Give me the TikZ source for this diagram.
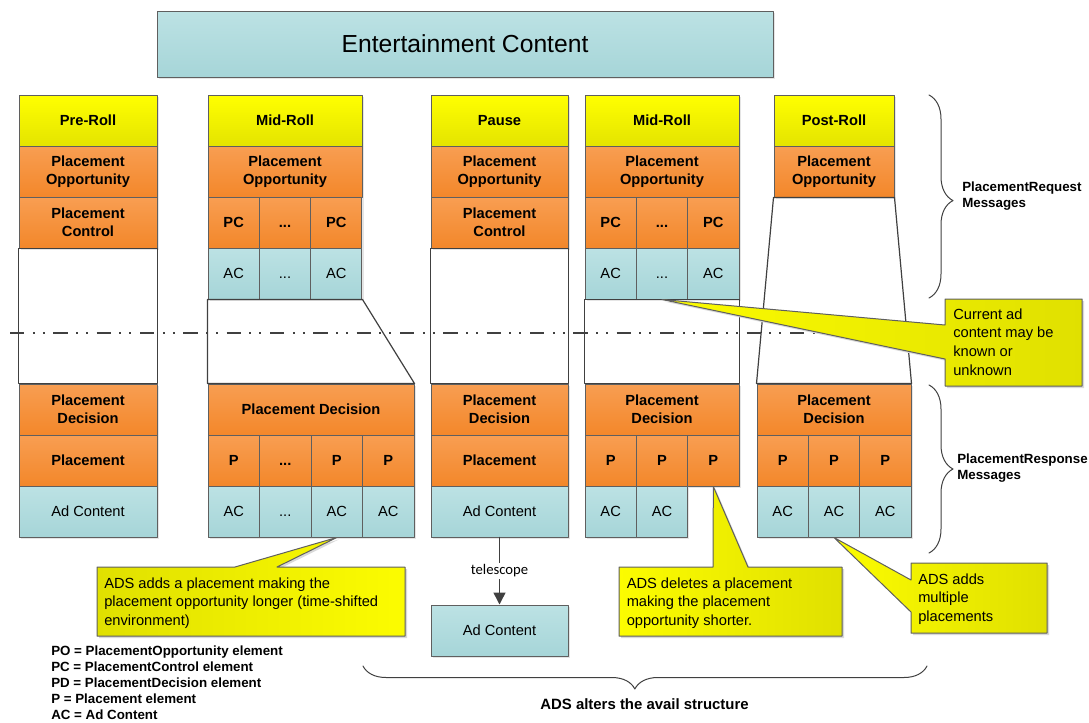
\documentclass[tikz,border=0pt]{standalone}
\usepackage{fontspec}
\setmainfont{Liberation Sans}
\newfontfamily\telfont{Carlito}
\usepackage{tikz}
\usetikzlibrary{arrows.meta}
\usetikzlibrary{decorations.pathreplacing}
\usetikzlibrary{shadows}
\definecolor{linegray}{RGB}{95,95,95}
\definecolor{cutgray}{RGB}{64,64,64}
\definecolor{hdtop}{RGB}{255,255,0}
\definecolor{hdbot}{RGB}{228,228,0}
\definecolor{ortop}{RGB}{248,158,82}
\definecolor{orbot}{RGB}{243,135,42}
\definecolor{actop}{RGB}{188,226,228}
\definecolor{acbot}{RGB}{166,213,216}
\definecolor{notelt}{RGB}{252,252,0}
\definecolor{notedk}{RGB}{224,224,0}
\newcommand{\cellfont}{\fontsize{11}{13.5}\selectfont\bfseries}
\newcommand{\notefont}{\fontsize{11}{13.9}\selectfont}
\newcommand{\keyfont}{\fontsize{10}{12}\selectfont\bfseries}
\newcommand{\skipdots}{\vphantom{P}.\kern0pt.\kern0pt.}

\begin{document}
\begin{tikzpicture}[line cap=round, line join=round, x=0.75pt, y=-0.75pt,
  cell/.style={draw=linegray, line width=0.75pt, inner sep=0pt, minimum height=38.25pt,
    align=center, font=\cellfont,
    drop shadow={shadow xshift=1.2pt, shadow yshift=-1.2pt, fill=black!10, opacity=1}},
  wpx/.style={minimum width=#1*0.75pt},
  hdcell/.style={cell, top color=hdtop, bottom color=hdbot},
  pocell/.style={cell, top color=ortop, bottom color=orbot},
  accell/.style={cell, top color=actop, bottom color=acbot, font=\fontsize{11}{13.5}\selectfont},
  gap/.style={draw=cutgray, line width=0.9pt},
  cut/.style={draw=cutgray, line width=1.1pt, line cap=butt,
    dash pattern=on 10.7pt off 6.4pt on 1.5pt off 6pt on 1.5pt off 6.4pt},
  brc/.style={draw=cutgray, line width=0.75pt, decorate, decoration={brace, amplitude=#1}},
  note/.style={draw=linegray, line width=0.75pt,
    preaction={fill=black!15, transform canvas={shift={(1.5pt,-1.5pt)}}}},
  notetxt/.style={anchor=north west, align=left, inner sep=0pt, font=\notefont},
  key/.style={align=left, inner sep=0pt, font=\keyfont}]
\useasboundingbox (0,0) rectangle (1089,722);

% top
\node[accell, wpx=616, minimum height=49.5pt, font=\fontsize{18.5}{22}\selectfont] (ent) at (465,44) {Entertainment Content};

% pre-roll
\node[hdcell, wpx=138] (preHd) at (88,120.5) {Pre-Roll};
\node[pocell, wpx=138] (prePO) at (88,171.5) {Placement\\Opportunity};
\node[pocell, wpx=138] (prePC) at (88,222.5) {Placement\\Control};
\node[pocell, wpx=138] (prePD) at (88,409.5) {Placement\\Decision};
\node[pocell, wpx=138] (preP) at (88,460.5) {Placement};
\node[accell, wpx=138] (preAC) at (88,511.5) {Ad Content};
\draw[gap] (prePC.south west) rectangle (prePD.north east);

% mid-roll, placement added
\node[hdcell, wpx=154] (midAHd) at (285,120.5) {Mid-Roll};
\node[pocell, wpx=154] (midAPO) at (285,171.5) {Placement\\Opportunity};
\node[pocell, wpx=51.33] (midAPC1) at (233.67,222.5) {PC};
\node[pocell, wpx=51.33] (midAPC2) at (285,222.5) {\skipdots};
\node[pocell, wpx=51.33] (midAPC3) at (336.33,222.5) {PC};
\node[accell, wpx=51.33] (midAAC1) at (233.67,273.5) {AC};
\node[accell, wpx=51.33] (midAAC2) at (285,273.5) {\skipdots};
\node[accell, wpx=51.33] (midAAC3) at (336.33,273.5) {AC};
\node[pocell, wpx=206] (midAPD) at (311,409.5) {Placement Decision};
\node[pocell, wpx=51.5] (midAP1) at (233.75,460.5) {P};
\node[pocell, wpx=51.5] (midAP2) at (285.25,460.5) {\skipdots};
\node[pocell, wpx=51.5] (midAP3) at (336.75,460.5) {P};
\node[pocell, wpx=51.5] (midAP4) at (388.25,460.5) {P};
\node[accell, wpx=51.5] (midAPA1) at (233.75,511.5) {AC};
\node[accell, wpx=51.5] (midAPA2) at (285.25,511.5) {\skipdots};
\node[accell, wpx=51.5] (midAPA3) at (336.75,511.5) {AC};
\node[accell, wpx=51.5] (midAPA4) at (388.25,511.5) {AC};
\draw[gap] (midAAC1.south west) -- (midAAC3.south east) -- (midAPD.north east) -- (midAPD.north west) -- cycle;

% pause
\node[hdcell, wpx=137] (pauseHd) at (499.5,120.5) {Pause};
\node[pocell, wpx=137] (pausePO) at (499.5,171.5) {Placement\\Opportunity};
\node[pocell, wpx=137] (pausePC) at (499.5,222.5) {Placement\\Control};
\node[pocell, wpx=137] (pausePD) at (499.5,409.5) {Placement\\Decision};
\node[pocell, wpx=137] (pauseP) at (499.5,460.5) {Placement};
\node[accell, wpx=137] (pauseAC) at (499.5,511.5) {Ad Content};
\draw[gap] (pausePC.south west) rectangle (pausePD.north east);
\node[accell, wpx=137] (telAC) at (499.5,630.5) {Ad Content};
\draw[draw=cutgray, line width=1.1pt, -{Triangle[length=9pt, width=9pt]}] (pauseAC.south) -- node[fill=white, inner sep=1.5pt, font=\telfont\fontsize{11}{13}\selectfont] (telLbl) {telescope} (telAC.north);

% mid-roll, placement deleted
\node[hdcell, wpx=154] (midBHd) at (662,120.5) {Mid-Roll};
\node[pocell, wpx=154] (midBPO) at (662,171.5) {Placement\\Opportunity};
\node[pocell, wpx=51.33] (midBPC1) at (610.67,222.5) {PC};
\node[pocell, wpx=51.33] (midBPC2) at (662,222.5) {\skipdots};
\node[pocell, wpx=51.33] (midBPC3) at (713.33,222.5) {PC};
\node[accell, wpx=51.33] (midBAC1) at (610.67,273.5) {AC};
\node[accell, wpx=51.33] (midBAC2) at (662,273.5) {\skipdots};
\node[accell, wpx=51.33] (midBAC3) at (713.33,273.5) {AC};
\node[pocell, wpx=154] (midBPD) at (662,409.5) {Placement\\Decision};
\node[pocell, wpx=51.33] (midBP1) at (610.67,460.5) {P};
\node[pocell, wpx=51.33] (midBP2) at (662,460.5) {P};
\node[pocell, wpx=51.33] (midBP3) at (713.33,460.5) {P};
\node[accell, wpx=51.33] (midBPA1) at (610.67,511.5) {AC};
\node[accell, wpx=51.33] (midBPA2) at (662,511.5) {AC};
\draw[gap] (midBAC1.south west) rectangle (midBPD.north east);

% post-roll
\node[hdcell, wpx=120] (postHd) at (834,120.5) {Post-Roll};
\node[pocell, wpx=120] (postPO) at (834,171.5) {Placement\\Opportunity};
\node[pocell, wpx=154] (postPD) at (834,409.5) {Placement\\Decision};
\node[pocell, wpx=51.33] (postP1) at (782.67,460.5) {P};
\node[pocell, wpx=51.33] (postP2) at (834,460.5) {P};
\node[pocell, wpx=51.33] (postP3) at (885.33,460.5) {P};
\node[accell, wpx=51.33] (postPA1) at (782.67,511.5) {AC};
\node[accell, wpx=51.33] (postPA2) at (834,511.5) {AC};
\node[accell, wpx=51.33] (postPA3) at (885.33,511.5) {AC};
\draw[gap] (postPO.south west) -- (postPO.south east) -- (postPD.north east) -- (postPD.north west) -- cycle;

% request / response split
\coordinate (cutL) at (10,333);
\coordinate (cutR) at (958,333);
\draw[cut] (cutL) -- (cutR);

% braces
\coordinate (reqT) at (929,95);
\coordinate (reqB) at (929,298);
\coordinate (rspT) at (929,385);
\coordinate (rspB) at (929,553);
\coordinate (altR) at (927,666);
\coordinate (altL) at (363,666);
\draw[brc=18pt, decoration={aspect=0.52}] (reqT) -- (reqB);
\draw[brc=18pt] (rspT) -- (rspB);
\draw[brc=17.25pt, decoration={aspect=0.518}] (altR) -- (altL);
\node[key, anchor=west] (reqLbl) at (962,196) {PlacementRequest\\Messages};
\node[key, anchor=west] (rspLbl) at (957,468) {PlacementResponse\\Messages};
\node[key, font=\fontsize{11.2}{13}\selectfont\bfseries] (altLbl) at (644.5,704) {ADS alters the avail structure};

% callouts
\draw[note, left color=notelt, right color=notedk] (945,299) -- (1082,299) -- (1082,386) -- (945,386) -- (945,359) -- (midBAC2.south) -- (945,325) -- cycle;
\node[notetxt] (noteCur) at (953,308.5) {Current ad\\content may be\\known or\\unknown};
\draw[note, left color=notedk, right color=notelt] (97,567) -- (235,567) -- (midAPA3.south) -- (277,567) -- (405,567) -- (405,636) -- (97,636) -- cycle;
\node[notetxt] (noteAdd) at (104,577.5) {ADS adds a placement making the\\placement opportunity longer (time-shifted\\environment)};
\draw[note, left color=notelt, right color=notedk] (619,567) -- (713,567) -- (midBP3.south) -- (748,567) -- (842,567) -- (842,636) -- (619,636) -- cycle;
\node[notetxt] (noteDel) at (626.5,577.5) {ADS deletes a placement\\making the placement\\opportunity shorter.};
\draw[note, left color=notelt, right color=notedk] (911,563) -- (1047,563) -- (1047,633) -- (911,633) -- (911,612) -- (postPA2.south) -- (911,580) -- cycle;
\node[notetxt] (noteMul) at (918,573.5) {ADS adds\\multiple\\placements};

% legend
\node[key, anchor=north west] (legend) at (51,645.5) {PO = PlacementOpportunity element\\PC = PlacementControl element\\PD = PlacementDecision element\\P = Placement element\\AC = Ad Content};
\end{tikzpicture}
\end{document}
